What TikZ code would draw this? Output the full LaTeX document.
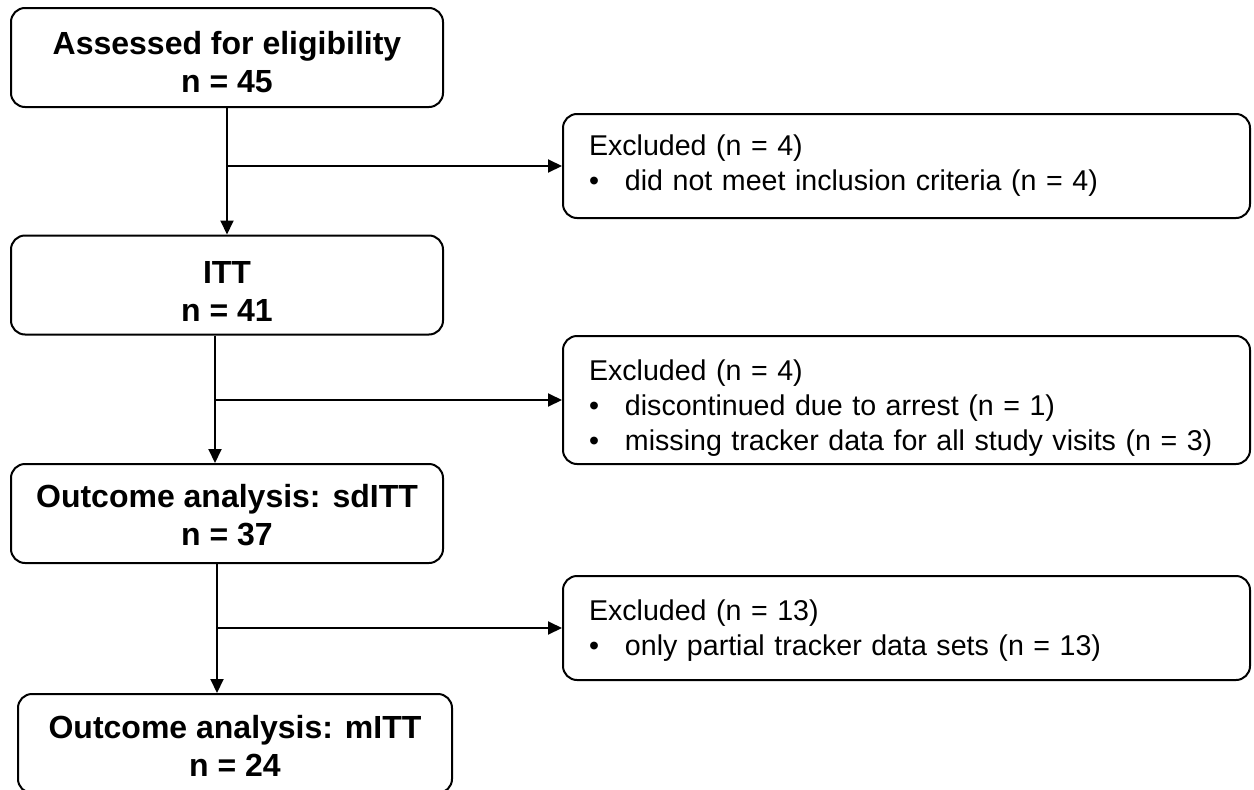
\documentclass[tikz,border=0pt]{standalone}
\usepackage{fontspec}
\setmainfont{Liberation Sans}
\usetikzlibrary{arrows.meta,calc}
\newcommand\vst[1]{\rule{0pt}{#1pt}}
\begin{document}
\begin{tikzpicture}[x=1pt,y=-1pt,
  lbox/.style={draw, line width=2pt, rounded corners=14pt, minimum width=432pt,
    minimum height=99pt, align=center, inner sep=0pt,
    font=\fontsize{32}{38}\selectfont\bfseries},
  rbox/.style={draw, line width=2pt, rounded corners=14pt, text width=635pt,
    inner xsep=26pt, inner ysep=0pt, minimum height=104pt, align=left,
    font=\fontsize{28.6}{35}\selectfont},
  conn/.style={line width=2pt, -{Triangle[length=14pt,width=13pt]}}]
\useasboundingbox (0,0) rectangle (1254,790);
\fill[white] (0,0) rectangle (1254,790);

% left column
\node[lbox] (a) at (227,57.5) {\vst{33}Assessed for eligibility\\ n = 45};
\node[lbox] (b) at (227,285) {\vst{34}ITT\\ n = 41};
\node[lbox] (c) at (227,513.5) {\vst{27}Outcome analysis: sdITT\\ n = 37};
\node[lbox, minimum width=434pt] (d) at (235,743.5) {\vst{27}Outcome analysis: mITT\\ n = 24};

% right column
\node[rbox] (e1) at (906.5,166) {Excluded (n = 4)\\ \makebox[36pt][l]{•}did not meet inclusion criteria (n = 4)};
\node[rbox, minimum height=128pt] (e2) at (906.5,400) {\vst{36}Excluded (n = 4)\\ \makebox[36pt][l]{•}discontinued due to arrest (n = 1)\\ \makebox[36pt][l]{•}missing tracker data for all study visits (n = 3)};
\node[rbox] (e3) at (906.5,628) {\vst{25}Excluded (n = 13)\\ \makebox[36pt][l]{•}only partial tracker data sets (n = 13)};

% connectors
\draw[conn] (a.south) -- (b.north);
\coordinate (j1) at (a.south |- e1.west);
\draw[conn] (j1) -- (e1.west);

\coordinate (s2) at ([xshift=-12pt]b.south);
\draw[conn] (s2) -- (s2 |- c.north);
\coordinate (j2) at (s2 |- e2.west);
\draw[conn] (j2) -- (e2.west);

\coordinate (s3) at ([xshift=-10pt]c.south);
\draw[conn] (s3) -- (s3 |- d.north);
\coordinate (j3) at (s3 |- e3.west);
\draw[conn] (j3) -- (e3.west);
\end{tikzpicture}
\end{document}
